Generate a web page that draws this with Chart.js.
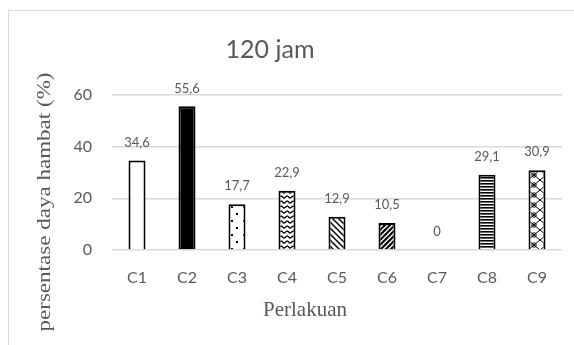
<!DOCTYPE html>
<html>
<head>
<meta charset="utf-8">
<script src="https://cdn.jsdelivr.net/npm/chart.js@4"></script>
<style>
  html, body { margin: 0; padding: 0; background: #fff; }
  body { width: 574px; height: 345px; position: relative; overflow: hidden; }
  .frame {
    position: absolute; left: 8px; top: 10px;
    width: 600px; height: 400px;
    border-left: 1.5px solid #d9d9d9;
    border-top: 1.5px solid #d9d9d9;
  }
  .wrap { position: absolute; left: 0; top: 0; width: 574px; height: 345px; }
</style>
</head>
<body>
<div class="frame"></div>
<div class="wrap"><canvas id="chart" width="574" height="345"></canvas></div>
<script>
// data
const categories = ["C1", "C2", "C3", "C4", "C5", "C6", "C7", "C8", "C9"];
const values = [34.6, 55.6, 17.7, 22.9, 12.9, 10.5, 0, 29.1, 30.9];
const valueLabels = ["34,6", "55,6", "17,7", "22,9", "12,9", "10,5", "0", "29,1", "30,9"];
const yTicks = [0, 20, 40, 60];

const chartTitle = "120 jam";
const xTitle = "Perlakuan";
const yTitle = "persentase daya hambat (%)";

const gray = "#595959";

// fill patterns for the bars
function makePattern(w, h, draw) {
    const c = document.createElement("canvas");
    c.width = w;
    c.height = h;
    const g = c.getContext("2d");
    g.fillStyle = "#fff";
    g.fillRect(0, 0, w, h);
    g.fillStyle = "#000";
    g.strokeStyle = "#000";
    draw(g);
    return g.createPattern(c, "repeat");
}

const ctx = document.getElementById("chart").getContext("2d");

const fills = [
    "#ffffff",
    "#000000",
    makePattern(12, 14, g => {
        g.fillRect(8, 3, 2, 2);
        g.fillRect(3, 10, 2, 2);
    }),
    makePattern(6, 5, g => {
        g.lineWidth = 1.3;
        g.beginPath();
        g.moveTo(0, 1);
        g.quadraticCurveTo(1.5, 4, 3, 2.5);
        g.quadraticCurveTo(4.5, 1, 6, 1);
        g.stroke();
    }),
    makePattern(6, 6, g => {
        g.lineWidth = 1.5;
        g.beginPath();
        g.moveTo(-1, -1); g.lineTo(7, 7);
        g.moveTo(-1, 5); g.lineTo(1, 7);
        g.moveTo(5, -1); g.lineTo(7, 1);
        g.stroke();
    }),
    makePattern(5, 5, g => {
        g.lineWidth = 2.2;
        g.beginPath();
        g.moveTo(-1, 6); g.lineTo(6, -1);
        g.moveTo(-1, 1); g.lineTo(1, -1);
        g.moveTo(4, 6); g.lineTo(6, 4);
        g.stroke();
    }),
    "#ffffff",
    makePattern(4, 3, g => {
        g.fillRect(0, 0, 4, 1.6);
    }),
    makePattern(12, 10, g => {
        g.lineWidth = 1;
        g.beginPath();
        g.moveTo(0, 0); g.lineTo(12, 10);
        g.moveTo(12, 0); g.lineTo(0, 10);
        g.stroke();
        g.beginPath();
        g.arc(6, 5, 2.2, 0, Math.PI * 2);
        g.stroke();
    })
];

// titles and value labels
const textPlugin = {
    id: "texts",
    afterDatasetsDraw(chart) {
        const c = chart.ctx;
        const area = chart.chartArea;
        const meta = chart.getDatasetMeta(0);

        c.save();
        c.fillStyle = gray;
        c.textAlign = "center";
        c.textBaseline = "middle";

        c.font = "13px Lato";
        meta.data.forEach((bar, i) => {
            c.fillText(valueLabels[i], bar.x, bar.y - 18);
        });

        c.font = "25px Lato";
        c.fillText(chartTitle, area.left + 158, area.top - 45);

        c.font = "21px 'Liberation Serif'";
        c.fillText(xTitle, area.left + 193, area.bottom + 60);

        c.translate(area.left - 67, area.bottom - 48);
        c.rotate(-Math.PI / 2);
        c.font = "19px 'Liberation Serif'";
        const w = c.measureText(yTitle).width;
        c.scale(259 / w, 1);
        c.fillText(yTitle, 0, 0);
        c.restore();
    }
};

new Chart(ctx, {
    type: "bar",
    data: {
        labels: categories,
        datasets: [{
            data: values,
            backgroundColor: fills,
            borderColor: "#000",
            borderWidth: 2,
            borderSkipped: "bottom",
            categoryPercentage: 1,
            barPercentage: 0.34
        }]
    },
    options: {
        responsive: false,
        animation: false,
        events: [],
        layout: {
            padding: { top: 95, right: 12, bottom: 0, left: 0 }
        },
        plugins: {
            legend: { display: false },
            tooltip: { enabled: false }
        },
        scales: {
            x: {
                grid: { display: false },
                border: { display: false },
                ticks: {
                    color: gray,
                    font: { family: "Lato", size: 16 },
                    padding: 10
                },
                afterFit(scale) { scale.height = 95; }
            },
            y: {
                min: 0,
                max: 60,
                afterBuildTicks(scale) {
                    scale.ticks = yTicks.map(v => ({ value: v }));
                },
                grid: {
                    color: "#d9d9d9",
                    lineWidth: 1.5,
                    drawTicks: false
                },
                border: { display: false },
                ticks: {
                    color: gray,
                    font: { family: "Lato", size: 16 },
                    padding: 20
                },
                afterFit(scale) { scale.width = 112; }
            }
        }
    },
    plugins: [textPlugin]
});
</script>
</body>
</html>
